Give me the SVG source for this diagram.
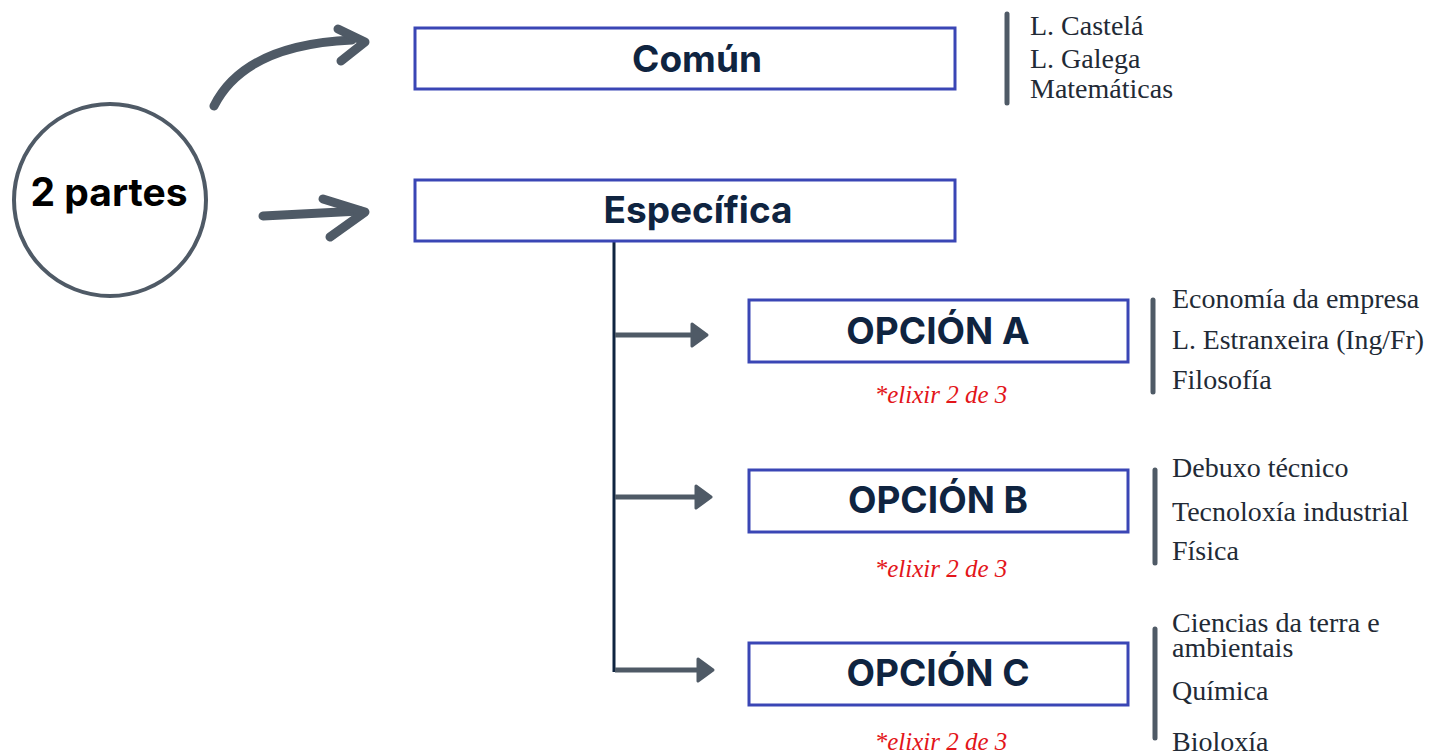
<svg xmlns="http://www.w3.org/2000/svg" width="1431" height="753" viewBox="0 0 1431 753">
<defs>
<style>
.box{fill:#fff;stroke:#3a46b5;stroke-width:3}
.title{font-family:"Inter","Liberation Sans",sans-serif;font-weight:700;font-size:37px;fill:#0f2440;text-anchor:middle}
.list{font-family:"Liberation Serif",serif;font-size:28px;fill:#222a35}
.note{font-family:"Liberation Serif",serif;font-style:italic;font-size:25px;fill:#e3151a;text-anchor:middle}
.bar{stroke:#4f5a66;stroke-width:5;stroke-linecap:round}
.brush{fill:none;stroke:#4f5a66;stroke-width:9;stroke-linecap:round;stroke-linejoin:round}
.branch{stroke:#4f5a66;stroke-width:5}
.head{fill:#4f5a66;stroke:#4f5a66;stroke-width:3;stroke-linejoin:round}
</style>
</defs>
<rect width="1431" height="753" fill="#fff"/>
<g id="connectors">
<path class="brush" d="M214,106 C236,62 285,43 352,40"/>
<polyline class="brush" points="338,29 365,42 341,61"/>
<path class="brush" d="M263,216 L360,211"/>
<polyline class="brush" points="323,199 365,212 330,237"/>
<line x1="614" y1="242" x2="614" y2="672" stroke="#0f2440" stroke-width="3"/>
<line class="branch" x1="615" y1="335" x2="694" y2="335"/>
<path class="head" d="M692,324 L707,335 L692,346 Z"/>
<line class="branch" x1="615" y1="497" x2="698" y2="497"/>
<path class="head" d="M696,486 L711,497 L696,508 Z"/>
<line class="branch" x1="615" y1="670" x2="700" y2="670"/>
<path class="head" d="M698,659 L713,670 L698,681 Z"/>
</g>
<g id="circle">
<circle cx="110" cy="200" r="96" fill="#fff" stroke="#4f5a66" stroke-width="4"/>
<text x="109" y="206" font-family="Inter,'Liberation Sans',sans-serif" font-weight="700" font-size="39" fill="#000" text-anchor="middle">2 partes</text>
</g>
<g id="comun">
<rect class="box" x="415" y="28" width="540" height="61"/>
<text class="title" x="697" y="72">Común</text>
</g>
<g id="comun-list">
<line class="bar" x1="1007" y1="14" x2="1007" y2="103"/>
<text class="list" x="1030" y="35">L. Castelá</text>
<text class="list" x="1030" y="68">L. Galega</text>
<text class="list" x="1030" y="98">Matemáticas</text>
</g>
<g id="especifica">
<rect class="box" x="415" y="180" width="540" height="61"/>
<text class="title" x="698" y="223">Específica</text>
</g>
<g id="opcion-a">
<rect class="box" x="749" y="300" width="379" height="62"/>
<text class="title" x="938" y="344">OPCIÓN A</text>
<text class="note" x="941" y="403">*elixir 2 de 3</text>
</g>
<g id="opcion-a-list">
<line class="bar" x1="1153" y1="300" x2="1153" y2="392"/>
<text class="list" x="1172" y="308">Economía da empresa</text>
<text class="list" x="1172" y="349" textLength="252" lengthAdjust="spacingAndGlyphs">L. Estranxeira (Ing/Fr)</text>
<text class="list" x="1172" y="389">Filosofía</text>
</g>
<g id="opcion-b">
<rect class="box" x="749" y="470" width="379" height="62"/>
<text class="title" x="938" y="513">OPCIÓN B</text>
<text class="note" x="941" y="577">*elixir 2 de 3</text>
</g>
<g id="opcion-b-list">
<line class="bar" x1="1155" y1="470" x2="1155" y2="563"/>
<text class="list" x="1172" y="477">Debuxo técnico</text>
<text class="list" x="1172" y="521">Tecnoloxía industrial</text>
<text class="list" x="1172" y="560">Física</text>
</g>
<g id="opcion-c">
<rect class="box" x="749" y="643" width="379" height="62"/>
<text class="title" x="938" y="686">OPCIÓN C</text>
<text class="note" x="941" y="750">*elixir 2 de 3</text>
</g>
<g id="opcion-c-list">
<line class="bar" x1="1155" y1="629" x2="1155" y2="738"/>
<text class="list" x="1172" y="632">Ciencias da terra e</text>
<text class="list" x="1172" y="657">ambientais</text>
<text class="list" x="1172" y="700">Química</text>
<text class="list" x="1172" y="751">Bioloxía</text>
</g>
</svg>
